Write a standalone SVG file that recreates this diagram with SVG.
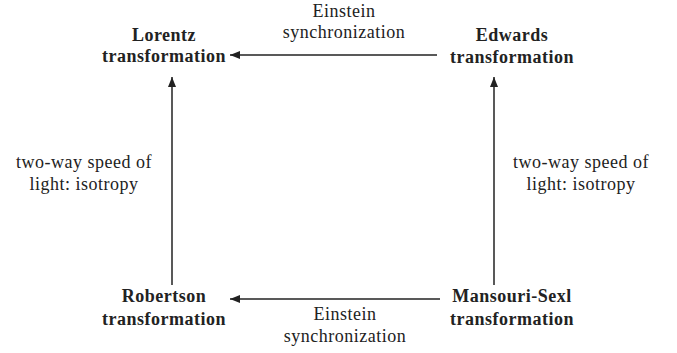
<svg xmlns="http://www.w3.org/2000/svg" width="677" height="353" viewBox="0 0 677 353">
<style>
text{font-family:"Liberation Serif","Times New Roman",serif;font-size:18px;fill:#222;text-anchor:middle;letter-spacing:0.5px}
.b{font-weight:bold}
.c line{stroke:#222;stroke-width:1.5}
</style>
<defs>
<marker id="ah" viewBox="0 0 10 8" refX="10" refY="4" markerWidth="10" markerHeight="8" markerUnits="userSpaceOnUse" orient="auto">
<path d="M0,0 L10,4 L0,8 Z" fill="#222"/>
</marker>
</defs>
<rect width="677" height="353" fill="#fff"/>
<g id="lorentz"><text class="b" x="164" y="41">Lorentz</text><text class="b" x="164" y="62">transformation</text></g>
<g id="edwards"><text class="b" x="512" y="41">Edwards</text><text class="b" x="512" y="63">transformation</text></g>
<g id="robertson"><text class="b" x="164" y="302">Robertson</text><text class="b" x="164" y="325">transformation</text></g>
<g id="mansouri"><text class="b" x="512" y="302">Mansouri-Sexl</text><text class="b" x="512" y="325">transformation</text></g>
<g class="c" id="connectors">
<line x1="437" y1="55" x2="230" y2="55" marker-end="url(#ah)"/>
<line x1="440" y1="299" x2="230" y2="299" marker-end="url(#ah)"/>
<line x1="172" y1="285" x2="172" y2="77" marker-end="url(#ah)"/>
<line x1="494" y1="285" x2="494" y2="77" marker-end="url(#ah)"/>
</g>
<g id="labels">
<text x="344" y="17">Einstein</text><text x="344" y="38">synchronization</text>
<text x="345" y="320">Einstein</text><text x="345" y="342">synchronization</text>
<text x="84" y="168">two-way speed of</text><text x="84" y="190">light: isotropy</text>
<text x="581" y="168">two-way speed of</text><text x="581" y="190">light: isotropy</text>
</g>
</svg>
